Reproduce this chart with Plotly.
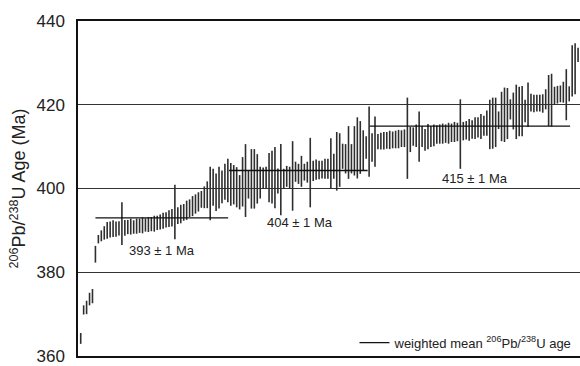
import plotly.graph_objects as go

# ---- data ----
ages = [
    364.2, 371.0, 371.6, 373.6, 374.3,
    384.3, 387.9, 388.7, 389.4, 390.0, 390.2, 390.4, 390.3, 390.5, 391.6,
    390.6, 390.8, 390.9, 390.8, 391.0, 391.1, 391.2, 391.3, 391.4, 391.5,
    391.6, 391.8, 392.0, 392.3, 392.5, 392.8, 393.0, 394.4, 393.5, 393.9,
    394.3, 394.8, 395.3, 395.8, 396.3, 396.8, 397.4, 397.9, 398.5, 398.8,
    400.3, 399.1, 400.2, 400.4, 401.6, 401.9, 401.0, 400.9, 400.3, 399.1,
    401.6, 401.9, 400.9, 402.3, 402.3, 402.3, 401.4, 402.5, 402.6, 402.6,
    402.7, 402.6, 401.8, 402.1, 402.3, 402.9, 402.6, 403.0, 404.0, 403.5,
    404.1, 403.9, 403.9, 403.8, 404.2, 404.5, 404.4, 404.5, 404.7, 404.7,
    406.0, 405.3, 406.5, 406.8, 407.7, 407.1, 408.6, 407.1, 409.0, 409.7,
    409.8, 409.1, 409.8, 411.2, 409.8, 411.2, 411.2, 411.3, 411.4, 411.5,
    411.6, 411.6, 411.7, 411.8, 411.9, 412.0, 412.0, 411.7, 412.4, 412.6,
    412.4, 412.4, 411.6, 412.4, 412.4, 412.7, 412.9, 413.0, 413.1, 413.1,
    413.2, 413.3, 413.5, 413.5, 413.0, 413.7, 413.9, 414.0, 414.1, 414.4,
    414.6, 414.8, 415.0, 415.6, 415.3, 415.6, 415.8, 416.3, 417.2, 417.6,
    417.9, 418.9, 418.5, 418.3, 418.4, 418.5, 418.5, 420.0, 420.5, 420.3,
    420.4, 420.4, 420.3, 421.3, 421.0, 421.1, 422.2, 422.4, 422.6, 423.0,
    422.4, 422.6, 428.1, 428.6, 431.9,
]
errors = [
    1.3, 1.1, 1.6, 1.5, 1.7,
    2.0, 1.0, 1.3, 1.6, 2.0, 1.9, 2.0, 1.8, 1.7, 5.1,
    1.9, 1.7, 1.9, 1.6, 1.8, 1.7, 1.9, 1.6, 1.8, 1.7,
    1.9, 1.7, 1.8, 1.9, 1.8, 2.0, 2.1, 6.5, 2.0, 2.2,
    2.0, 2.3, 2.1, 2.4, 2.3, 2.3, 2.0, 2.6, 3.2, 6.4,
    4.4, 4.5, 5.0, 3.9, 4.3, 5.2, 5.1, 4.7, 4.8, 4.1,
    5.9, 8.7, 3.3, 7.1, 7.1, 5.9, 3.8, 2.5, 2.6, 5.9,
    6.3, 7.3, 3.0, 8.5, 2.4, 2.5, 2.6, 8.3, 2.4, 2.4,
    3.7, 2.0, 2.5, 8.3, 2.4, 2.4, 2.2, 2.1, 2.4, 2.4,
    6.0, 3.0, 7.0, 6.4, 3.0, 3.5, 6.3, 3.5, 5.9, 7.3,
    6.3, 4.8, 2.7, 8.4, 3.4, 6.0, 1.8, 2.0, 2.1, 2.0,
    2.2, 2.0, 2.1, 2.2, 2.0, 2.1, 9.7, 3.0, 2.2, 2.7,
    6.0, 2.5, 2.6, 3.0, 2.5, 2.6, 2.2, 2.3, 2.4, 2.2,
    2.5, 2.2, 2.4, 2.2, 8.3, 2.2, 2.2, 2.6, 2.2, 2.6,
    2.4, 3.0, 2.4, 3.0, 5.9, 6.1, 5.9, 2.1, 5.9, 6.5,
    6.1, 2.4, 4.4, 6.5, 5.9, 6.0, 2.7, 5.3, 2.1, 2.1,
    2.0, 2.0, 2.2, 2.4, 6.1, 6.3, 2.1, 2.1, 2.0, 2.5,
    6.1, 1.8, 6.1, 6.1, 1.7,
]
ranks = list(range(len(ages)))

group_means = [393.0, 404.3, 414.9]
group_first = [5.0, 50.4, 98.2]
group_last = [50.1, 97.5, 166.3]
group_labels = ["393 ± 1 Ma", "404 ± 1 Ma", "415 ± 1 Ma"]

y_ticks = [360, 380, 400, 420, 440]

FONT = "Liberation Sans, Arial, sans-serif"

fig = go.Figure()

fig.add_trace(go.Scatter(
    x=ranks, y=ages, mode="markers",
    marker=dict(size=1, color="rgba(0,0,0,0)"),
    error_y=dict(type="data", array=errors, symmetric=True, width=0,
                 thickness=1.6, color="#2e2e2e"),
    showlegend=False, hoverinfo="skip",
))

mx, my = [], []
for m, a, b in zip(group_means, group_first, group_last):
    mx += [a, b, None]
    my += [m, m, None]
fig.add_trace(go.Scatter(
    x=mx, y=my, mode="lines",
    line=dict(color="#111111", width=1.3),
    name="weighted mean <sup>206</sup>Pb/<sup>238</sup>U age",
    showlegend=True,
))

label_pos = [(15.6, 385.3), (62.6, 391.9), (122.1, 402.3)]
for txt, (lx, ly) in zip(group_labels, label_pos):
    fig.add_annotation(x=lx, y=ly, text=txt, showarrow=False,
                       xanchor="left", yanchor="middle",
                       font=dict(family=FONT, size=13, color="#222222"))

fig.update_layout(
    width=580, height=366,
    margin=dict(l=78, r=0, t=21, b=7),
    paper_bgcolor="white", plot_bgcolor="white",
    font=dict(family=FONT, color="#222222"),
    legend=dict(x=0.995, xanchor="right", y=0.04, yanchor="middle",
                bgcolor="rgba(0,0,0,0)", borderwidth=0,
                font=dict(family=FONT, size=13, color="#222222"),
                itemwidth=30),
)
fig.update_xaxes(
    range=[-0.92, 169.66], showgrid=False, zeroline=False,
    showticklabels=False, ticks="",
    showline=True, linecolor="#111111", linewidth=2, mirror=True,
)
fig.update_yaxes(
    range=[360, 440], tickvals=y_ticks, ticks="",
    ticklabeloverflow="allow",
    showgrid=True, gridcolor="#333333", gridwidth=1,
    zeroline=False, showline=True, linecolor="#111111", linewidth=1.5,
    tickfont=dict(family=FONT, size=17, color="#222222"),
    ticklabelstandoff=8,
    title=dict(text="<sup>206</sup>Pb/<sup>238</sup>U Age (Ma)",
               font=dict(family=FONT, size=18, color="#222222"), standoff=6),
)

fig.write_html("out.html",
               config={"displayModeBar": False},
               post_script="document.body.style.margin='0';document.body.style.overflow='hidden';")
